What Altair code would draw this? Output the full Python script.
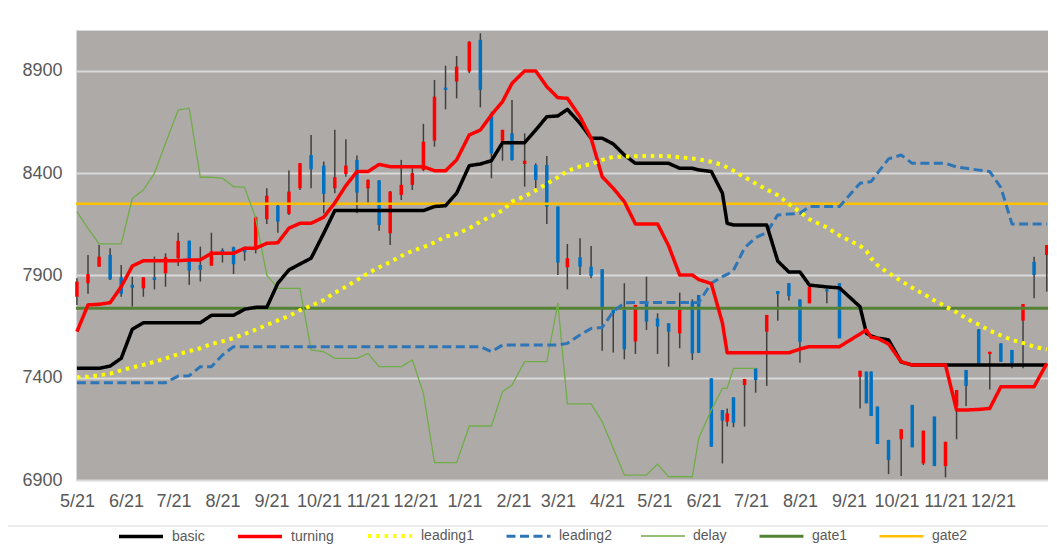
import altair as alt
import pandas as pd

START = pd.Timestamp("2020-05-21")

# days after START for each weekly bar
day_offset = [0, 7, 14, 21, 28, 35, 42, 49, 56, 64,
              71, 78, 85, 92, 99, 106, 113, 120, 127, 134,
              141, 148, 156, 163, 170, 177, 184, 191, 198, 205,
              212, 219, 226, 233, 240, 248, 255, 262, 269, 275,
              283, 290, 297, 304, 310, 318, 325, 332, 339, 346,
              353, 360, 367, 374, 381, 389, 393, 401, 408, 411,
              415, 422, 429, 436, 443, 450, 457, 463, 474, 482,
              495, 499, 502, 506, 513, 521, 528, 535, 542, 549,
              556, 562, 570, 577, 584, 591, 598, 605, 613]

open_ = [7796, 7862, 7943, 8000, 7891, 7854, 7837, 7891, 7911, 7984,
         8070, 7951, 7948, 8025, 8038, 8025, 8025, 8175, 8241, 8201,
         8326, 8489, 8437, 8326, 8396, 8465, 8326, 8364, 8106, 8294,
         8343, 8416, 8559, 8818, 8848, 8897, 9052, 8677, 8554, 8595,
         8445, 8440, 8440, 8237, 7940, 7989, 7943, 7930, 7731, 7731,
         7577, 7772, 7690, 7666, 7617, 7772, 7804, 7397, 7242, 7185,
         7304, 7364, 7446, 7625, 7824, 7862, 7783, 7764, 7832, 7862,
         7405, 7430, 7430, 7259, 7096, 7099, 7267, 6981, 7210, 6968,
         7260, 7438, 7637, 7516, 7568, 7536, 7679, 7967, 8000]

close = [7870, 7907, 7992, 7881, 7810, 7840, 7891, 7878, 7989, 8069,
         7924, 7927, 8017, 8008, 7955, 8013, 8184, 8290, 8163, 8310,
         8449, 8419, 8299, 8380, 8437, 8305, 8367, 8147, 8310, 8343,
         8400, 8554, 8774, 8807, 8921, 9043, 8807, 8497, 8612, 8465,
         8461, 8367, 8237, 7963, 7984, 7943, 7898, 7731, 7715, 7539,
         7756, 7674, 7650, 7625, 7731, 7519, 7522, 7063, 7190, 7226,
         7180, 7394, 7389, 7707, 7809, 7800, 7576, 7845, 7822, 7593,
         7434, 7275, 7213, 7076, 6998, 7148, 7060, 7141, 6968, 7087,
         7340, 7360, 7467, 7527, 7478, 7470, 7760, 7902, 8049]

high = [7886, 8000, 8049, 8033, 7951, 7894, 7891, 7992, 8008, 8109,
        8070, 8041, 8109, 8033, 8041, 8041, 8188, 8326, 8245, 8413,
        8449, 8587, 8457, 8612, 8566, 8486, 8370, 8367, 8313, 8465,
        8424, 8641, 8856, 8926, 8973, 9045, 9084, 8701, 8612, 8758,
        8595, 8448, 8484, 8237, 8054, 8082, 8044, 7930, 7731, 7862,
        7756, 7894, 7715, 7666, 7816, 7783, 7804, 7397, 7242, 7250,
        7304, 7394, 7446, 7707, 7824, 7862, 7783, 7845, 7832, 7862,
        7434, 7430, 7430, 7259, 7096, 7148, 7267, 7141, 7210, 7087,
        7340, 7438, 7637, 7527, 7568, 7536, 7760, 7992, 8049]

low = [7756, 7810, 7943, 7878, 7796, 7748, 7796, 7832, 7845, 7946,
       7854, 7870, 7948, 7963, 7907, 7972, 8008, 8152, 8109, 8196,
       8318, 8326, 8204, 8302, 8383, 8204, 8256, 8119, 8049, 8269,
       8318, 8410, 8530, 8712, 8766, 8889, 8722, 8375, 8461, 8461,
       8334, 8326, 8152, 7902, 7832, 7902, 7886, 7532, 7523, 7490,
       7516, 7633, 7516, 7454, 7544, 7487, 7522, 7063, 6981, 7161,
       7158, 7161, 7327, 7360, 7679, 7777, 7473, 7764, 7764, 7593,
       7250, 7275, 7213, 7076, 6929, 6920, 7060, 6973, 6968, 6913,
       7099, 7262, 7467, 7343, 7478, 7446, 7446, 7788, 7821]

basic = [7446, 7446, 7446, 7457, 7495, 7637, 7669, 7669, 7669, 7669,
         7669, 7669, 7705, 7705, 7705, 7735, 7744, 7744, 7862, 7927,
         7956, 7984, 8106, 8217, 8217, 8217, 8217, 8217, 8217, 8217,
         8217, 8217, 8237, 8241, 8302, 8437, 8445, 8461, 8549, 8549,
         8549, 8611, 8676, 8680, 8712, 8644, 8571, 8571, 8543, 8489,
         8448, 8448, 8448, 8448, 8424, 8424, 8416, 8408, 8302, 8155,
         8147, 8147, 8147, 8147, 7970, 7917, 7917, 7853, 7844, 7839,
         7747, 7618, 7604, 7594, 7585, 7477, 7462, 7462, 7462, 7462,
         7462, 7462, 7462, 7462, 7462, 7462, 7462, 7462, 7462]

turning = [7625, 7756, 7759, 7767, 7845, 7946, 7972, 7972, 7972, 7972,
           7976, 7976, 8008, 8008, 8008, 8033, 8033, 8057, 8060, 8131,
           8155, 8155, 8185, 8255, 8339, 8408, 8408, 8443, 8432, 8432,
           8432, 8432, 8412, 8412, 8465, 8587, 8611, 8685, 8750, 8839,
           8900, 8900, 8823, 8769, 8766, 8676, 8571, 8383, 8326, 8261,
           8152, 8152, 8152, 8045, 7902, 7902, 7880, 7860, 7668, 7522,
           7522, 7522, 7522, 7522, 7522, 7522, 7540, 7552, 7552, 7552,
           7614, 7633, 7598, 7593, 7565, 7478, 7462, 7462, 7462, 7462,
           7242, 7242, 7245, 7250, 7356, 7356, 7356, 7356, 7470]

leading1 = [7402, 7405, 7412, 7420, 7436, 7450, 7463, 7478, 7494, 7515,
            7530, 7544, 7565, 7578, 7594, 7614, 7635, 7658, 7680, 7702,
            7730, 7752, 7780, 7815, 7845, 7878, 7911, 7940, 7965, 7995,
            8020, 8038, 8062, 8090, 8103, 8130, 8163, 8190, 8218, 8261,
            8287, 8316, 8348, 8380, 8410, 8433, 8445, 8465, 8480, 8481,
            8483, 8484, 8484, 8483, 8478, 8472, 8468, 8456, 8440, 8428,
            8412, 8380, 8350, 8320, 8292, 8250, 8210, 8175, 8135, 8095,
            8045, 8020, 7985, 7950, 7912, 7873, 7840, 7810, 7778, 7748,
            7720, 7690, 7660, 7630, 7607, 7585, 7570, 7552, 7538]

leading2 = [7376, 7376, 7376, 7376, 7376, 7376, 7376, 7376, 7376, 7408,
            7410, 7454, 7454, 7511, 7552, 7552, 7552, 7552, 7552, 7552,
            7552, 7552, 7552, 7552, 7552, 7552, 7552, 7552, 7552, 7552,
            7552, 7552, 7552, 7552, 7552, 7552, 7552, 7527, 7560, 7560,
            7560, 7560, 7560, 7560, 7568, 7609, 7641, 7646, 7723, 7766,
            7768, 7768, 7768, 7768, 7768, 7768, 7768, 7862, 7894, 7905,
            7925, 8035, 8085, 8110, 8196, 8200, 8204, 8237, 8237, 8237,
            8351, 8355, 8359, 8400, 8470, 8489, 8448, 8448, 8448, 8448,
            8430, 8424, 8415, 8408, 8330, 8152, 8152, 8152, 8152]

delay = [8212, 8130, 8054, 8054, 8054, 8277, 8318, 8400, 8546, 8709,
         8717, 8380, 8380, 8375, 8334, 8331, 8179, 7902, 7837, 7837,
         7837, 7536, 7527, 7495, 7495, 7495, 7519, 7454, 7454, 7454,
         7487, 7324, 6985, 6985, 6985, 7164, 7164, 7164, 7332, 7364,
         7479, 7479, 7479, 7764, 7272, 7272, 7272, 7185, 7055, 6924,
         6924, 6924, 6978, 6916, 6916, 6916, 7104, 7242, 7348, 7348,
         7446, 7446, 7446]

gate_names = ["gate1", "gate2"]
gate_values = [7740, 8250]

month_labels = ["2020-05-21", "2020-06-21", "2020-07-21", "2020-08-21", "2020-09-21",
                "2020-10-21", "2020-11-21", "2020-12-21", "2021-01-21", "2021-02-21",
                "2021-03-21", "2021-04-21", "2021-05-21", "2021-06-21", "2021-07-21",
                "2021-08-21", "2021-09-21", "2021-10-21", "2021-11-21", "2021-12-21"]

y_ticks = [6900, 7400, 7900, 8400, 8900]

series_names = ["basic", "turning", "leading1", "leading2", "delay", "gate1", "gate2"]
series_colors = ["#000000", "#FF0000", "#FFFF00", "#2E75B6", "#70AD47", "#548235", "#FFC000"]
series_dash = [[1, 0], [1, 0], [3.5, 4.8], [9, 4.5], [1, 0], [1, 0], [1, 0]]
series_width = [3.5, 3.5, 4, 3, 1.3, 3, 2.5]

# ---------------------------------------------------------------------------
dates = [(START + pd.Timedelta(days=d)).strftime("%Y-%m-%d") for d in day_offset]
candles = pd.DataFrame({"date": dates, "open": open_, "close": close,
                        "high": high, "low": low})

rows = []
for name, vals in [("basic", basic), ("turning", turning), ("leading1", leading1),
                   ("leading2", leading2), ("delay", delay)]:
    for d, v in zip(dates, vals):
        rows.append({"date": d, "value": v, "series": name})
lines = pd.DataFrame(rows)
gates = pd.DataFrame({"series": gate_names, "value": gate_values})


def dt(s, hours=0):
    t = pd.Timestamp(s)
    return alt.DateTime(year=t.year, month=t.month, date=t.day, hours=hours, utc=True)


FONT = "Liberation Sans"
TXT = "#595959"

xscale = alt.Scale(type="utc", domain=[dt("2020-05-20", 10), dt("2022-01-24", 19)])
xaxis = alt.Axis(values=[dt(s) for s in month_labels],
                 labelExpr="utcFormat(datum.value, '%-m/%d')",
                 labelOverlap=False, labelFlush=False, domain=False, ticks=False,
                 grid=False, labelFontSize=18, labelColor=TXT, labelFont=FONT,
                 labelPadding=12, title=None)
yscale = alt.Scale(domain=[6900, 9100], nice=False, zero=False)
yaxis = alt.Axis(values=y_ticks, format="d", grid=True, gridColor="#D9D9D9", gridWidth=2,
                 domain=False, ticks=False, labelFontSize=18, labelColor=TXT,
                 labelFont=FONT, labelPadding=14, title=None)


def X():
    return alt.X("date:T", scale=xscale, axis=xaxis, title=None)


def Y(f):
    return alt.Y(f"{f}:Q", scale=yscale, axis=yaxis, title=None)


leg = alt.Legend(orient="none", legendX=41, legendY=482, direction="horizontal",
                 title=None, symbolType="stroke", symbolSize=1936, labelFontSize=14,
                 labelColor=TXT, labelFont=FONT, labelOffset=7, columnPadding=26)

col = alt.Color("series:N", scale=alt.Scale(domain=series_names, range=series_colors), legend=leg)
dash = alt.StrokeDash("series:N", scale=alt.Scale(domain=series_names, range=series_dash), legend=leg)
wid = alt.StrokeWidth("series:N", scale=alt.Scale(type="ordinal", domain=series_names,
                                                  range=series_width), legend=leg)

wicks = alt.Chart(candles).mark_rule(color="#404040", strokeWidth=1.5).encode(
    x=X(), y=Y("low"), y2="high:Q")
bodies = alt.Chart(candles).mark_rule(strokeWidth=3.5).encode(
    x=X(), y=Y("open"), y2="close:Q",
    color=alt.condition("datum.close > datum.open", alt.value("#FF0000"), alt.value("#0070C0")))

gate_layer = alt.Chart(gates).mark_rule().encode(
    y=Y("value"), color=col, strokeDash=dash, strokeWidth=wid)

line_layers = []
for name in ["delay", "leading2", "basic", "turning", "leading1"]:
    line_layers.append(
        alt.Chart(lines).transform_filter(alt.datum.series == name)
        .mark_line(strokeJoin="round")
        .encode(x=X(), y=Y("value"), color=col, strokeDash=dash, strokeWidth=wid)
    )

sep = alt.Chart(pd.DataFrame({"k": [0]})).mark_rule(color="#D9D9D9", strokeWidth=1).encode(
    x=alt.value(-68), x2=alt.value(972), y=alt.value(496))

chart = alt.layer(wicks, bodies, gate_layer, *line_layers, sep).properties(
    width=972, height=450,
    autosize=alt.AutoSizeParams(type="none"),
    padding={"left": 68, "top": 22, "right": 0, "bottom": 65},
    background="white",
).configure(font=FONT).configure_view(fill="#AEAAA8", stroke="#D9D9D9", strokeWidth=1)

chart.save("out.html", embed_options={"renderer": "svg", "actions": False})
